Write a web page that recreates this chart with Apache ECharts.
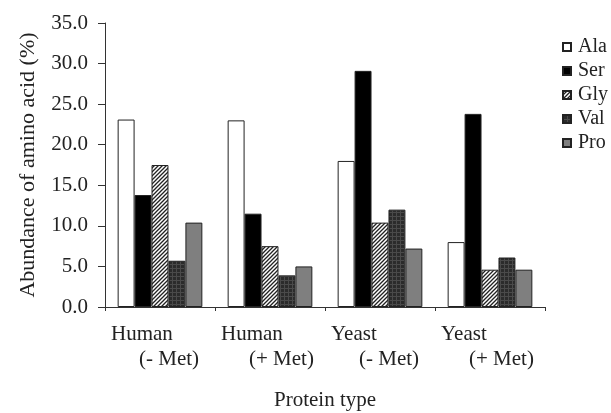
<!DOCTYPE html>
<html>
<head>
<meta charset="utf-8">
<script src="https://cdn.jsdelivr.net/npm/echarts@6/dist/echarts.min.js"></script>
<style>
  html, body { margin: 0; padding: 0; background: #fff; }
  #chart { width: 611px; height: 413px; }
</style>
</head>
<body>
<div id="chart"></div>
<script>
// data
const categories = ['Human|(- Met)', 'Human|(+ Met)', 'Yeast|(- Met)', 'Yeast|(+ Met)'];
const aminoAcids = ['Ala', 'Ser', 'Gly', 'Val', 'Pro'];
const alaValues = [23.1, 23.0, 18.0, 8.0];
const serValues = [13.8, 11.5, 29.1, 23.8];
const glyValues = [17.5, 7.5, 10.4, 4.6];
const valValues = [5.7, 3.9, 12.0, 6.1];
const proValues = [10.4, 5.0, 7.2, 4.6];
const yTicks = { min: 0, max: 35, step: 5 };

// fill patterns like the printed figure
function hatchPattern() {
  const c = document.createElement('canvas');
  c.width = 4; c.height = 4;
  const ctx = c.getContext('2d');
  ctx.fillStyle = '#fff';
  ctx.fillRect(0, 0, 4, 4);
  ctx.strokeStyle = '#222';
  ctx.lineWidth = 1.3;
  ctx.beginPath();
  ctx.moveTo(-1, 5); ctx.lineTo(5, -1);
  ctx.moveTo(-1, 1); ctx.lineTo(1, -1);
  ctx.moveTo(3, 5); ctx.lineTo(5, 3);
  ctx.stroke();
  return { image: c, repeat: 'repeat' };
}

function gridPattern() {
  const c = document.createElement('canvas');
  c.width = 4; c.height = 4;
  const ctx = c.getContext('2d');
  ctx.fillStyle = '#2b2b2b';
  ctx.fillRect(0, 0, 4, 4);
  ctx.fillStyle = '#4a4a4a';
  ctx.fillRect(0, 0, 4, 1);
  ctx.fillRect(0, 0, 1, 4);
  return { image: c, repeat: 'repeat' };
}

const fills = ['#ffffff', '#000000', hatchPattern(), gridPattern(), '#7f7f7f'];
const seriesValues = [alaValues, serValues, glyValues, valValues, proValues];

const font = 'Liberation Serif';
const chart = echarts.init(document.getElementById('chart'));

chart.setOption({
  animation: false,
  grid: { left: 105, right: 66, top: 23, bottom: 106, containLabel: false, outerBoundsMode: 'none' },
  legend: {
    orient: 'vertical',
    left: 557,
    top: 32,
    itemWidth: 8,
    itemHeight: 8,
    itemGap: 4,
    icon: 'rect',
    data: aminoAcids,
    textStyle: { fontFamily: font, fontSize: 20, color: '#222', padding: [0, 0, 0, 2] }
  },
  xAxis: {
    type: 'category',
    data: categories,
    name: 'Protein type',
    nameLocation: 'middle',
    nameGap: 83,
    nameTextStyle: { fontFamily: font, fontSize: 21, color: '#222' },
    axisLine: { lineStyle: { color: '#333', width: 1 } },
    axisTick: { show: true, length: 4, inside: false, lineStyle: { color: '#333' } },
    axisLabel: {
      margin: 15,
      interval: 0,
      formatter: function (v) {
        const p = v.split('|');
        return '{a|' + p[0] + '}\n{b|' + p[1] + '}';
      },
      rich: {
        a: { fontFamily: font, fontSize: 21, color: '#222', width: 98, align: 'left', lineHeight: 25 },
        b: { fontFamily: font, fontSize: 21, color: '#222', width: 70, align: 'left', lineHeight: 25, padding: [0, 0, 0, 28] }
      }
    }
  },
  yAxis: {
    type: 'value',
    min: yTicks.min,
    max: yTicks.max,
    interval: yTicks.step,
    name: 'Abundance of amino acid (%)',
    nameLocation: 'middle',
    nameGap: 66,
    nameTextStyle: { fontFamily: font, fontSize: 22, color: '#222' },
    splitLine: { show: false },
    axisLine: { show: true, lineStyle: { color: '#333', width: 1 } },
    axisTick: { show: true, length: 7, lineStyle: { color: '#333' } },
    axisLabel: {
      margin: 17,
      fontFamily: font,
      fontSize: 21,
      color: '#222',
      formatter: v => v.toFixed(1)
    }
  },
  series: aminoAcids.map((name, i) => ({
    name: name,
    type: 'bar',
    data: seriesValues[i],
    barGap: '0%',
    barCategoryGap: '23%',
    itemStyle: { color: fills[i], borderColor: '#222', borderWidth: 1 }
  }))
});
</script>
</body>
</html>
